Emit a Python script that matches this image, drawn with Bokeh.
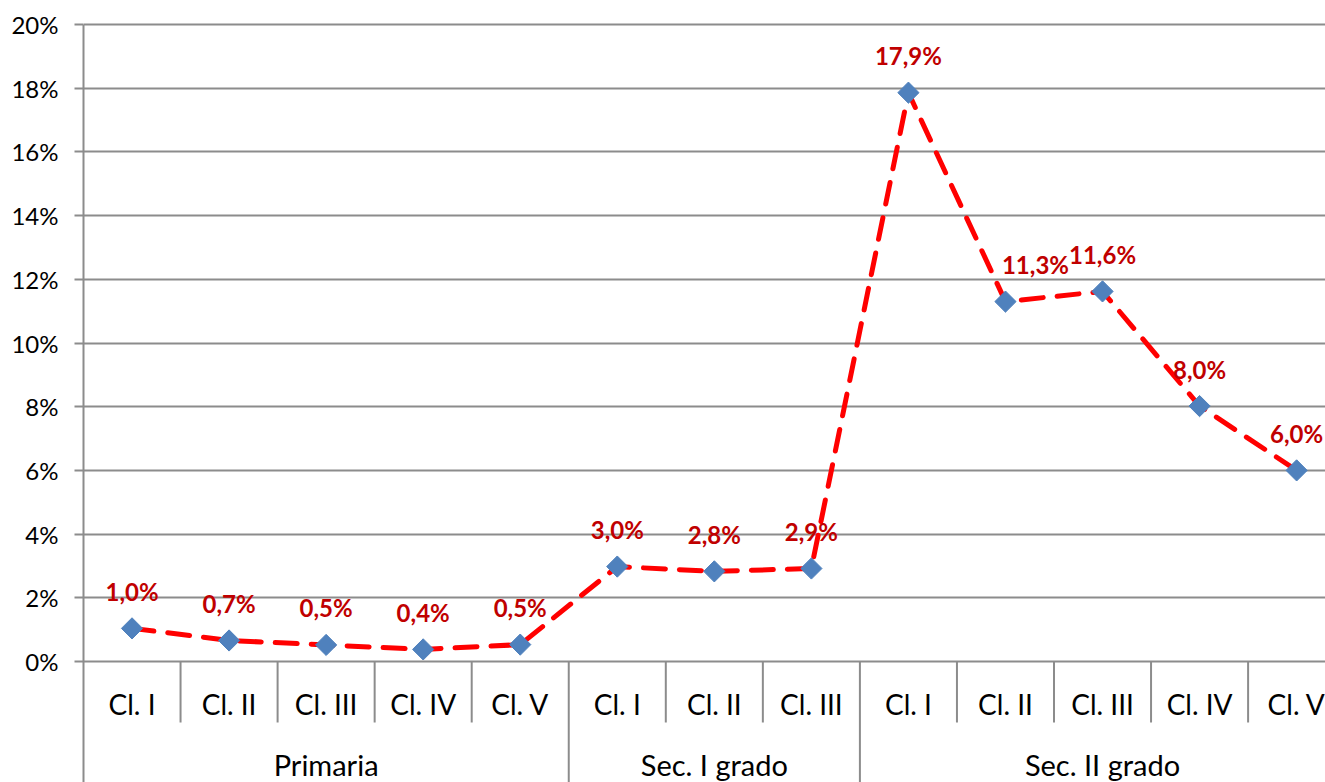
import math
from bokeh.plotting import figure
from bokeh.models import Range1d, FixedTicker, ColumnDataSource
from bokeh.core.properties import value
from bokeh.embed import file_html
from bokeh.resources import INLINE

# ---- data ----
groups = ["Primaria", "Sec. I grado", "Sec. II grado"]
classes_primaria = ["Cl. I", "Cl. II", "Cl. III", "Cl. IV", "Cl. V"]
classes_sec1 = ["Cl. I", "Cl. II", "Cl. III"]
classes_sec2 = ["Cl. I", "Cl. II", "Cl. III", "Cl. IV", "Cl. V"]
values_primaria = [1.04, 0.66, 0.52, 0.38, 0.53]
values_sec1 = [2.98, 2.83, 2.92]
values_sec2 = [17.86, 11.30, 11.62, 8.02, 6.00]
y_ticks = [0, 2, 4, 6, 8, 10, 12, 14, 16, 18, 20]

# ---- derived ----
classes = classes_primaria + classes_sec1 + classes_sec2
vals = values_primaria + values_sec1 + values_sec2
group_sizes = [len(classes_primaria), len(classes_sec1), len(classes_sec2)]
n = len(classes)
xs = [i + 0.5 for i in range(n)]
labels = [("%.1f%%" % v).replace(".", ",") for v in vals]
label_dx = [0] * n
label_dx[9] = 30  # manual nudge of the "11,3%" label as in the source

FONT = "Lato"
W, H = 1325, 782
frame_top = 8
top_px = 24      # pixel row of the 20% line
zero_px = 661    # pixel row of the 0% line
px_per_unit = (zero_px - top_px) / 20.0
frame_h = H - frame_top
y_end = 20 + (top_px - frame_top) / px_per_unit
y_start = y_end - frame_h / px_per_unit
left_border = 83
cat_px = 97.05
x_end = (W - left_border) / cat_px

def ypx(py):
    return -(py - zero_px) / px_per_unit

p = figure(width=W, height=H, output_backend="svg", toolbar_location=None,
           x_range=Range1d(0, x_end), y_range=Range1d(y_start, y_end),
           min_border_left=left_border, min_border_right=0,
           min_border_top=frame_top, min_border_bottom=0)
p.outline_line_color = None
p.background_fill_color = "white"
p.border_fill_color = "white"
p.xaxis.visible = False
p.xgrid.visible = False

grid_col = "#8c8c8c"
p.ygrid.ticker = FixedTicker(ticks=y_ticks)
p.ygrid.grid_line_color = grid_col
p.ygrid.grid_line_width = 2

ya = p.yaxis[0]
ya.ticker = FixedTicker(ticks=y_ticks)
ya.bounds = (y_start, 20)
ya.major_label_overrides = {t: "%d%%" % t for t in y_ticks}
ya.axis_line_color = grid_col
ya.axis_line_width = 2
ya.major_tick_line_color = grid_col
ya.major_tick_line_width = 2
ya.major_tick_out = 9
ya.major_tick_in = 0
ya.minor_tick_line_color = None
ya.major_label_standoff = 16
ya.major_label_text_font = FONT
ya.major_label_text_font_size = "24px"
ya.major_label_text_color = "black"

# category separators
cat_depth = ypx(722)
bounds_idx = []
acc = 0
for s in group_sizes:
    acc += s
    bounds_idx.append(acc)
inner = [i for i in range(1, n) if i not in bounds_idx]
p.segment(x0=inner, x1=inner, y0=[0] * len(inner), y1=[cat_depth] * len(inner),
          line_color=grid_col, line_width=2)
gb = bounds_idx[:-1]
p.segment(x0=gb, x1=gb, y0=[0] * len(gb), y1=[y_start] * len(gb),
          line_color=grid_col, line_width=2)

# category labels
p.text(x=xs, y=[ypx(703)] * n, text=classes,
       text_font=value(FONT), text_font_size="28px", text_color="black",
       text_align="center", text_baseline="middle")
gx = []
acc = 0
for s in group_sizes:
    gx.append(acc + s / 2)
    acc += s
p.text(x=gx, y=[ypx(764)] * len(gx), text=groups,
       text_font=value(FONT), text_font_size="29px", text_color="black",
       text_align="center", text_baseline="middle")

# series
src = ColumnDataSource(dict(x=xs, y=vals, lab=labels, dx=label_dx))
p.line(x="x", y="y", source=src, line_color="#ff0000", line_width=5,
       line_dash="22 14", line_cap="round")
p.scatter(x="x", y="y", source=src, marker="square", size=15, angle=math.pi / 4,
          fill_color="#4f81bd", line_color="#4f81bd", line_width=1)
p.text(x="x", y="y", text="lab", source=src, x_offset="dx", y_offset=-37,
       text_font=value(FONT), text_font_style="bold", text_font_size="24px",
       text_color="#c00000", text_align="center", text_baseline="middle")

open("out.html", "w").write(file_html(p, INLINE))
